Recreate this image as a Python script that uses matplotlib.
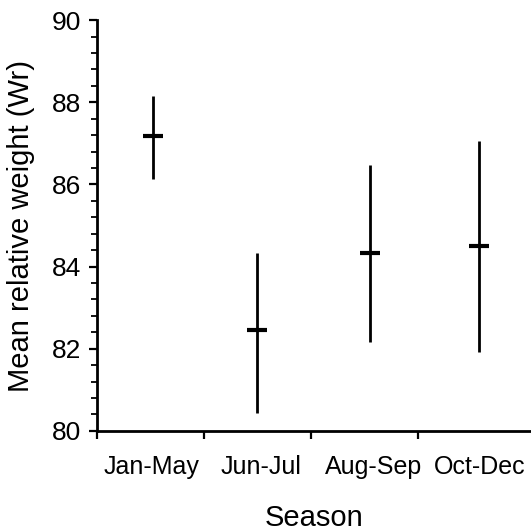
import numpy as np
import matplotlib.pyplot as plt
from matplotlib.ticker import MultipleLocator

plt.rcParams['font.family'] = ['Liberation Sans', 'DejaVu Sans']

seasons = ['Jan-May', 'Jun-Jul', 'Aug-Sep', 'Oct-Dec']
xpos = [0.52, 1.5, 2.55, 3.57]
label_pos = [0.51, 1.53, 2.59, 3.58]
means = [87.18, 82.46, 84.32, 84.51]
upper = [88.15, 84.34, 86.47, 87.06]
lower = [86.13, 80.44, 82.17, 81.93]

fig = plt.figure(figsize=(5.31, 5.30), dpi=100)
ax = fig.add_axes([0.183, 0.187, 0.817, 0.775])

ax.vlines(xpos, lower, upper, color='black', linewidth=2)
ax.plot(xpos, means, linestyle='none', marker='_', markersize=14, mew=3, color='black')

ax.set_xlim(0, 4.06)
ax.set_ylim(80, 90)
ax.yaxis.set_major_locator(MultipleLocator(2))
ax.yaxis.set_minor_locator(MultipleLocator(0.4))

ax.set_xticks([0, 1, 2, 3])
ax.set_xticklabels([])
ax.set_xticks(label_pos, minor=True)
ax.set_xticklabels(seasons, minor=True)
ax.tick_params(axis='x', which='minor', length=0, pad=17, labelsize=18)
ax.tick_params(axis='x', which='major', length=5.8, width=1.6, direction='out')
ax.tick_params(axis='y', which='major', length=5.8, width=1.6, labelsize=19, pad=6)
ax.tick_params(axis='y', which='minor', length=4.3, width=1.3)

for s in ['top', 'right']:
    ax.spines[s].set_visible(False)
for s in ['left', 'bottom']:
    ax.spines[s].set_linewidth(2)

ax.set_xlabel('Season', fontsize=21, labelpad=18)
ax.set_ylabel('Mean relative weight (Wr)', fontsize=21, labelpad=12)

fig.savefig('out.png', dpi=100)
